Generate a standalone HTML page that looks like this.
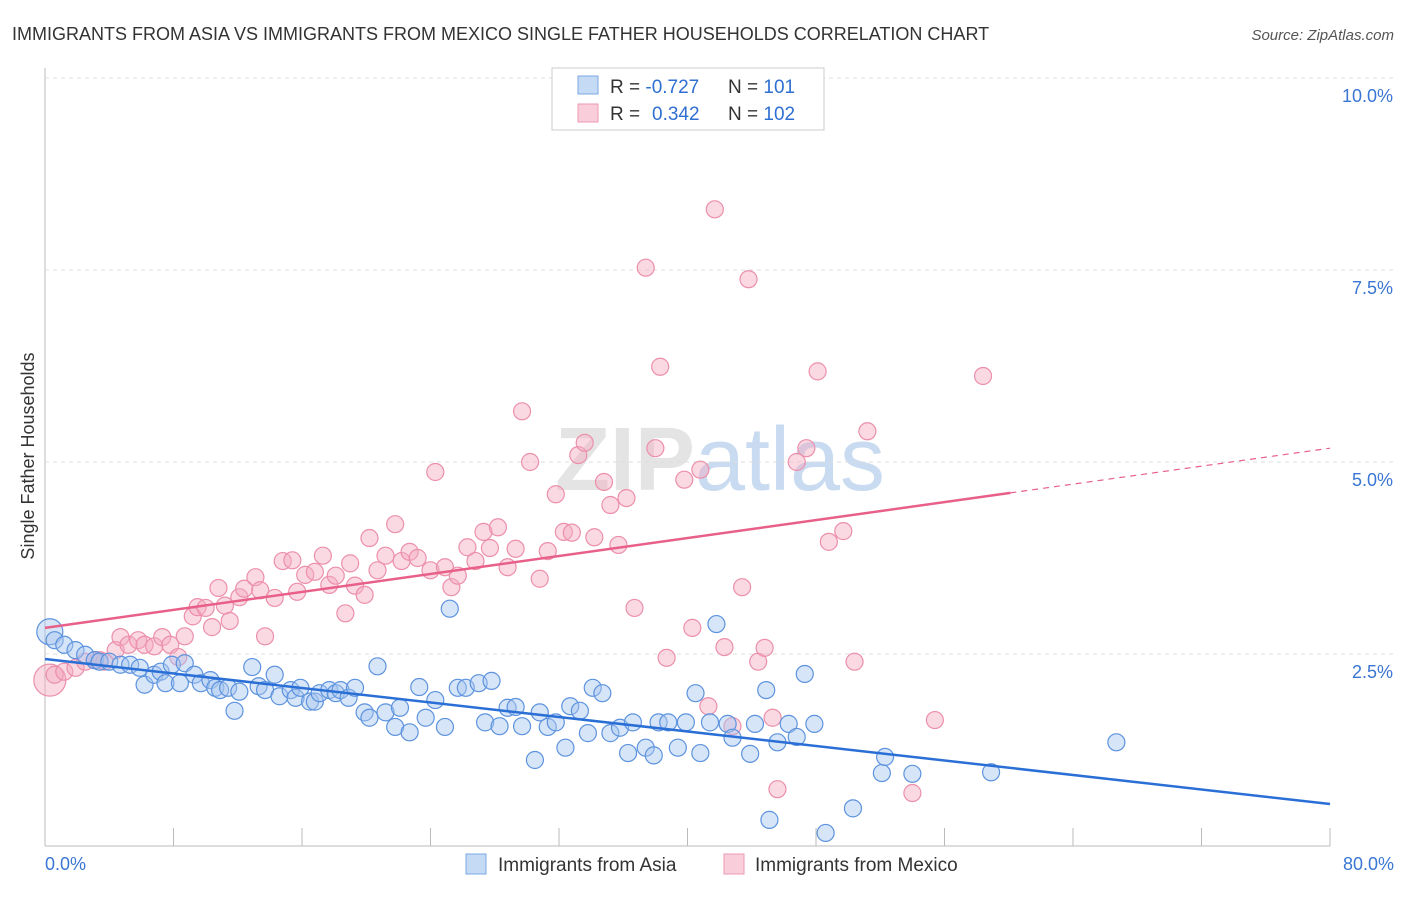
<!DOCTYPE html>
<html><head><meta charset="utf-8"><style>
body{margin:0;background:#fff;font-family:"Liberation Sans",sans-serif}
svg text{font-family:"Liberation Sans",sans-serif}
</style></head><body>
<svg id="chart" width="1406" height="892" xmlns="http://www.w3.org/2000/svg">
<text x="12" y="40" font-size="18" fill="#333">IMMIGRANTS FROM ASIA VS IMMIGRANTS FROM MEXICO SINGLE FATHER HOUSEHOLDS CORRELATION CHART</text>
<text x="1394" y="40" font-size="15" fill="#555" text-anchor="end" font-style="italic">Source: ZipAtlas.com</text>
<text x="720" y="490" font-size="90" text-anchor="middle" fill="#e4e4e4" font-weight="bold">ZIP<tspan fill="#c9dbf0" font-weight="normal">atlas</tspan></text>
<text transform="translate(34,456) rotate(-90)" font-size="18" fill="#333" text-anchor="middle">Single Father Households</text>
<g id="grid"></g><g id="marks"></g><g id="lines"></g>
<g>
<rect x="552" y="68" width="272" height="62" fill="#fff" stroke="#ccc"/>
<rect x="578" y="76" width="20" height="18" fill="#c5daf5" stroke="#7aa8e0"/>
<rect x="578" y="104" width="20" height="18" fill="#f9cdd9" stroke="#ec9ab3"/>
<text x="610" y="93" font-size="19" fill="#333">R = <tspan fill="#2f6fd1">-0.727</tspan><tspan x="728">N = </tspan><tspan fill="#2f6fd1">101</tspan></text>
<text x="610" y="120" font-size="19" fill="#333">R = <tspan x="652" fill="#2f6fd1">0.342</tspan><tspan x="728">N = </tspan><tspan fill="#2f6fd1">102</tspan></text>
</g>
<g>
<rect x="466" y="854" width="20" height="20" fill="#c5daf5" stroke="#7aa8e0"/>
<text x="498" y="871" font-size="19" fill="#333">Immigrants from Asia</text>
<rect x="724" y="854" width="20" height="20" fill="#f9cdd9" stroke="#ec9ab3"/>
<text x="755" y="871" font-size="19" fill="#333">Immigrants from Mexico</text>
</g>
</svg>
<script>
const xTickLabels=["0.0%","80.0%"];
const yTicks=[2.5,5,7.5,10];
const yTickLabels=["2.5%","5.0%","7.5%","10.0%"];
const asiaX=[0.3,0.6,1.2,1.9,2.5,3.1,3.4,4.0,4.7,5.3,
5.9,6.2,6.8,7.2,7.5,7.9,8.4,8.7,9.3,9.7,
10.3,10.6,10.9,11.4,11.8,12.1,12.9,13.3,13.7,14.3,
14.6,15.3,15.6,15.9,16.5,16.8,17.1,17.7,18.1,18.4,
18.9,19.3,19.9,20.2,20.7,21.2,21.8,22.1,22.7,23.3,
23.7,24.3,24.9,25.2,25.7,26.2,27.0,27.4,27.8,28.3,
28.8,29.3,29.7,30.5,30.8,31.3,31.8,32.4,32.7,33.3,
33.8,34.1,34.7,35.2,35.8,36.3,36.6,37.4,37.9,38.2,
38.8,39.4,39.9,40.5,40.8,41.4,41.8,42.5,42.8,43.9,
44.2,44.9,45.1,45.6,46.3,46.8,47.3,47.9,48.6,50.3,
52.1,52.3,54.0,58.9,66.7];
const asiaY=[2.79,2.68,2.62,2.55,2.49,2.42,2.40,2.40,2.36,2.36,
2.32,2.10,2.23,2.27,2.12,2.36,2.12,2.38,2.23,2.12,
2.16,2.06,2.03,2.06,1.76,2.01,2.33,2.08,2.03,2.23,
1.95,2.03,1.93,2.06,1.88,1.88,1.99,2.03,1.99,2.03,
1.93,2.06,1.74,1.67,2.34,1.74,1.55,1.80,1.48,2.07,
1.67,1.90,1.55,3.09,2.06,2.06,2.12,1.61,2.15,1.56,
1.80,1.81,1.56,1.12,1.74,1.55,1.61,1.28,1.82,1.76,
1.47,2.06,1.99,1.47,1.54,1.21,1.61,1.28,1.18,1.61,
1.61,1.28,1.61,1.99,1.21,1.61,2.89,1.59,1.41,1.20,
1.59,2.03,0.34,1.35,1.59,1.42,2.24,1.59,0.17,0.49,
0.95,1.16,0.94,0.96,1.35];
const mexX=[0.3,0.6,1.2,1.9,2.5,3.1,3.4,3.7,4.4,4.7,
5.2,5.8,6.2,6.8,7.3,7.8,8.3,8.7,9.2,9.5,
10.0,10.4,10.8,11.2,11.5,12.1,12.4,13.1,13.4,13.7,
14.3,14.8,15.4,15.7,16.2,16.8,17.3,17.7,18.1,18.7,
19.0,19.3,19.9,20.2,20.7,21.2,21.8,22.2,22.7,23.2,
24.0,24.3,24.9,25.3,25.7,26.3,26.8,27.3,27.7,28.2,
28.8,29.3,29.7,30.2,30.8,31.3,31.8,32.3,32.8,33.2,
33.6,34.2,34.8,35.2,35.7,36.2,36.7,37.4,38.0,38.3,
38.7,39.8,40.3,40.8,41.3,41.7,42.3,42.8,43.4,43.8,
44.4,44.8,45.3,45.6,46.8,47.4,48.1,48.8,49.7,50.4,
51.2,54.0,55.4,58.4];
const mexY=[2.16,2.23,2.27,2.32,2.40,2.42,2.42,2.40,2.55,2.72,
2.62,2.68,2.62,2.60,2.72,2.62,2.46,2.73,2.99,3.11,
3.10,2.85,3.36,3.13,2.93,3.24,3.35,3.50,3.33,2.73,
3.23,3.71,3.72,3.31,3.53,3.57,3.78,3.40,3.52,3.03,
3.68,3.39,3.27,4.01,3.59,3.78,4.19,3.71,3.83,3.75,
3.59,4.87,3.63,3.37,3.52,3.89,3.71,4.09,3.88,4.15,
3.63,3.87,5.66,5.00,3.48,3.84,4.58,4.09,4.08,5.09,
5.25,4.02,4.74,4.44,3.92,4.53,3.10,7.53,5.18,6.24,
2.45,4.77,2.84,4.90,1.82,8.29,2.59,1.56,3.37,7.38,
2.40,2.58,1.67,0.74,5.00,5.18,6.18,3.96,4.10,2.40,
5.40,0.69,1.64,6.12];
const asiaTrend=[2.435,-0.0236];
const mexTrend=[2.84,0.02925];
const mexSolidEnd=60.1;
const ns="http://www.w3.org/2000/svg";
const X0=45,X1=1330,Y0=846,PX=(X1-X0)/80,PY=76.8;
function sx(v){return X0+v*PX}
function sy(v){return Y0-v*PY}
function mk(t,a,p){const e=document.createElementNS(ns,t);for(const k in a)e.setAttribute(k,a[k]);p.appendChild(e);return e}
const grid=document.getElementById('grid'),marks=document.getElementById('marks'),lines=document.getElementById('lines');
mk('line',{x1:45,y1:68,x2:45,y2:846,stroke:'#bbb'},grid);
mk('line',{x1:45,y1:846,x2:1330,y2:846,stroke:'#bbb'},grid);
yTicks.forEach((t,i)=>{
 const g=mk('line',{x1:45,y1:sy(t),x2:1394,y2:sy(t),stroke:'#ddd','stroke-dasharray':'4,4'},grid);
 
 
 const tx=mk('text',{x:1393,y:sy(t)+24,'font-size':18,fill:'#3a76d4','text-anchor':'end'},grid);
 tx.textContent=yTickLabels[i];
 
 
});
for(let i=0;i<=10;i++){
 const l=mk('line',{x1:sx(i*8),y1:828,x2:sx(i*8),y2:846,stroke:'#bbb'},grid);
 
 
}
[[0,'start',45],[80,'end',1394]].forEach((d,i)=>{
 const t=mk('text',{x:d[2],y:870,'font-size':18,fill:'#3a76d4','text-anchor':d[1]},grid);
 t.textContent=xTickLabels[i];
 
 
});
function dots(xs,ys,fill,stroke,name){
 const n=Math.min(xs.length,ys.length);
 for(let i=0;i<n;i++){
  const r=i===0?(name==='mexico-point'?16:13):8.5;
  const c=mk('circle',{cx:sx(xs[i]),cy:sy(ys[i]),r:r,fill:fill,'fill-opacity':0.45,stroke:stroke,'stroke-width':1.2},marks);
  
  
 }
}
dots(mexX,mexY,'#f5aac0','#ec8fab','mexico-point');
dots(asiaX,asiaY,'#a6c6f0','#5d93de','asia-point');
function ty(f,x){return f[0]+f[1]*x}
let l=mk('line',{x1:sx(0),y1:sy(ty(asiaTrend,0)),x2:sx(80),y2:sy(ty(asiaTrend,80)),stroke:'#2a6fd6','stroke-width':2.5},lines);


l=mk('line',{x1:sx(0),y1:sy(ty(mexTrend,0)),x2:sx(mexSolidEnd),y2:sy(ty(mexTrend,mexSolidEnd)),stroke:'#e8608a','stroke-width':2.5},lines);


l=mk('line',{x1:sx(mexSolidEnd),y1:sy(ty(mexTrend,mexSolidEnd)),x2:sx(80),y2:sy(ty(mexTrend,80)),stroke:'#e8608a','stroke-width':1.2,'stroke-dasharray':'6,5'},lines);


</script>
</body></html>
